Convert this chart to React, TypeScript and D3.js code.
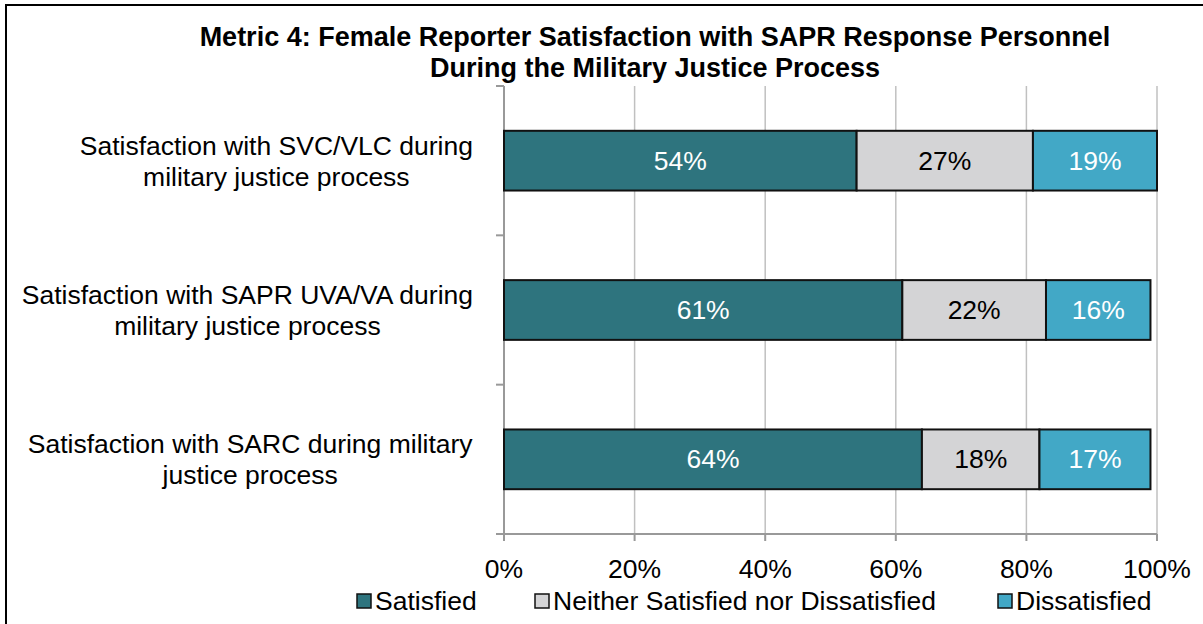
import React, { useEffect, useRef } from 'react'
import * as d3 from 'd3'

const categories = [
    ['Satisfaction with SVC/VLC during', 'military justice process'],
    ['Satisfaction with SAPR UVA/VA during', 'military justice process'],
    ['Satisfaction with SARC during military', 'justice process'],
]
const seriesNames = ['Satisfied', 'Neither Satisfied nor Dissatisfied', 'Dissatisfied']
const satisfied = [54, 61, 64]
const neither = [27, 22, 18]
const dissatisfied = [19, 16, 17]
const ticks = [0, 20, 40, 60, 80, 100]
const titleLines = [
    'Metric 4: Female Reporter Satisfaction with SAPR Response Personnel',
    'During the Military Justice Process',
]

export default function App() {
    const ref = useRef<SVGSVGElement>(null)

    useEffect(() => {
        let width = 1203, height = 624
        let left = 504, right = 1157, top = 86, bottom = 534
        let colors = ['#2e747e', '#d4d4d6', '#42a8c6']
        let textColors = ['#ffffff', '#000000', '#ffffff']
        let font = 'Arial, "Liberation Sans", sans-serif'
        let fs = '26.5px'

        const svg = d3.select(ref.current)
        svg.selectAll('*').remove()
        svg.attr('width', width).attr('height', height)

        svg.append('rect')
            .attr('x', 6).attr('y', 5)
            .attr('width', 1400).attr('height', 800)
            .attr('fill', 'white')
            .attr('stroke', 'black')
            .attr('stroke-width', 2)

        const x = d3.scaleLinear().domain([0, 100]).range([left, right])
        const y = d3.scaleBand<number>()
            .domain(d3.range(categories.length))
            .range([top, bottom])
            .paddingInner(0.6)
            .paddingOuter(0.3)

        // gridlines
        svg.append('g').selectAll('line')
            .data(ticks.slice(1))
            .enter().append('line')
            .attr('x1', d => x(d)).attr('x2', d => x(d))
            .attr('y1', top).attr('y2', bottom)
            .attr('stroke', '#c0c0c0')
            .attr('stroke-width', 1.5)

        // axes
        const axisColor = '#999999'
        svg.append('line')
            .attr('x1', left).attr('x2', left)
            .attr('y1', top).attr('y2', bottom + 7)
            .attr('stroke', axisColor).attr('stroke-width', 2)
        svg.append('line')
            .attr('x1', left - 8).attr('x2', right)
            .attr('y1', bottom).attr('y2', bottom)
            .attr('stroke', axisColor).attr('stroke-width', 2)
        const step = y.step()
        svg.append('g').selectAll('line')
            .data(d3.range(categories.length + 1))
            .enter().append('line')
            .attr('x1', left - 8).attr('x2', left)
            .attr('y1', d => top + d * step).attr('y2', d => top + d * step)
            .attr('stroke', axisColor).attr('stroke-width', 2)
        svg.append('g').selectAll('line')
            .data(ticks)
            .enter().append('line')
            .attr('x1', d => x(d)).attr('x2', d => x(d))
            .attr('y1', bottom).attr('y2', bottom + 7)
            .attr('stroke', axisColor).attr('stroke-width', 2)

        svg.append('g').selectAll('text')
            .data(ticks)
            .enter().append('text')
            .attr('x', d => x(d))
            .attr('y', 578)
            .attr('text-anchor', 'middle')
            .style('font-family', font)
            .style('font-size', fs)
            .text(d => d + '%')

        // bars
        const rows = categories.map((c, i) => [satisfied[i], neither[i], dissatisfied[i]])
        rows.forEach((vals, i) => {
            let start = 0
            vals.forEach((v, k) => {
                const g = svg.append('g')
                g.append('rect')
                    .attr('x', x(start))
                    .attr('y', y(i)!)
                    .attr('width', x(start + v) - x(start))
                    .attr('height', y.bandwidth())
                    .attr('fill', colors[k])
                    .attr('stroke', '#111')
                    .attr('stroke-width', 2)
                g.append('text')
                    .attr('x', (x(start) + x(start + v)) / 2)
                    .attr('y', y(i)! + y.bandwidth() / 2 + 9)
                    .attr('text-anchor', 'middle')
                    .attr('fill', textColors[k])
                    .style('font-family', font)
                    .style('font-size', fs)
                    .text(v + '%')
                start += v
            })
        })

        // category labels: lines centred on each other, block right-aligned
        categories.forEach((lines, i) => {
            const cy = y(i)! + y.bandwidth() / 2
            const t = svg.append('text')
                .attr('text-anchor', 'middle')
                .style('font-family', font)
                .style('font-size', fs)
            t.selectAll('tspan')
                .data(lines)
                .enter().append('tspan')
                .attr('x', 0)
                .attr('y', (d, j) => cy - 6 + j * 31)
                .text(d => d)
            const w = (t.node() as SVGTextElement).getBBox().width
            t.selectAll('tspan').attr('x', 473 - w / 2)
        })

        // title
        svg.append('g').selectAll('text')
            .data(titleLines)
            .enter().append('text')
            .attr('x', 655)
            .attr('y', (d, i) => 46 + i * 31)
            .attr('text-anchor', 'middle')
            .style('font-family', font)
            .style('font-size', '27px')
            .style('font-weight', 'bold')
            .text(d => d)

        // legend
        const legendX = [357, 535, 998]
        seriesNames.forEach((name, k) => {
            svg.append('rect')
                .attr('x', legendX[k]).attr('y', 594)
                .attr('width', 14).attr('height', 14)
                .attr('fill', colors[k])
                .attr('stroke', '#111')
                .attr('stroke-width', 1.5)
            svg.append('text')
                .attr('x', legendX[k] + 18)
                .attr('y', 610)
                .style('font-family', font)
                .style('font-size', fs)
                .text(name)
        })
    }, [])

    return (
        <svg ref={ref} style={{ position: 'absolute', left: 0, top: 0, display: 'block' }} />
    )
}
